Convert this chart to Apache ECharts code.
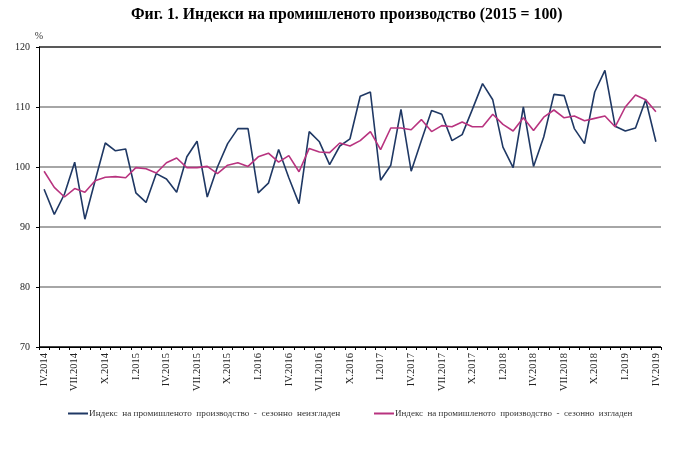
<!DOCTYPE html>
<html>
<head>
<meta charset="utf-8">
<script src="https://cdn.jsdelivr.net/npm/echarts@6/dist/echarts.min.js"></script>
<style>
html,body{margin:0;padding:0;background:#fff;}
#chart{width:700px;height:449px;}
</style>
</head>
<body>
<div id="chart"></div>
<script>
const months = [
 'IV.2014','V.2014','VI.2014','VII.2014','VIII.2014','IX.2014','X.2014','XI.2014','XII.2014',
 'I.2015','II.2015','III.2015','IV.2015','V.2015','VI.2015','VII.2015','VIII.2015','IX.2015','X.2015','XI.2015','XII.2015',
 'I.2016','II.2016','III.2016','IV.2016','V.2016','VI.2016','VII.2016','VIII.2016','IX.2016','X.2016','XI.2016','XII.2016',
 'I.2017','II.2017','III.2017','IV.2017','V.2017','VI.2017','VII.2017','VIII.2017','IX.2017','X.2017','XI.2017','XII.2017',
 'I.2018','II.2018','III.2018','IV.2018','V.2018','VI.2018','VII.2018','VIII.2018','IX.2018','X.2018','XI.2018','XII.2018',
 'I.2019','II.2019','III.2019','IV.2019'
];

const unadjusted = [
 96.3, 92.1, 95.5, 100.8, 91.3, 97.7, 104.0, 102.7, 103.0,
 95.7, 94.1, 98.9, 98.0, 95.8, 101.7, 104.3, 95.0, 100.0, 103.9, 106.4, 106.4,
 95.7, 97.3, 102.9, 98.2, 93.9, 105.9, 104.2, 100.4, 103.5, 104.7, 111.8, 112.5,
 97.8, 100.3, 109.6, 99.3, 104.4, 109.4, 108.8, 104.4, 105.4, 109.6, 113.9, 111.2,
 103.3, 99.9, 110.0, 100.1, 105.0, 112.1, 111.9, 106.4, 103.9, 112.5, 116.1, 106.8,
 106.0, 106.5, 111.2, 104.2
];

const adjusted = [
 99.3, 96.6, 95.0, 96.4, 95.8, 97.7, 98.3, 98.4, 98.2,
 99.9, 99.7, 99.0, 100.7, 101.5, 99.9, 99.9, 100.1, 98.9, 100.3, 100.7, 100.1,
 101.7, 102.3, 100.8, 101.9, 99.2, 103.1, 102.5, 102.4, 104.0, 103.5, 104.4, 105.9,
 102.9, 106.5, 106.5, 106.2, 107.9, 105.9, 106.9, 106.7, 107.5, 106.7, 106.7, 108.8,
 107.1, 106.0, 108.2, 106.1, 108.3, 109.5, 108.2, 108.5, 107.7, 108.1, 108.5, 106.7,
 110.0, 112.0, 111.2, 109.2
];

const yTicks = { min: 70, max: 120, step: 10 };

const titleText = 'Фиг. 1. Индекси на промишленото производство (2015 = 100)';
const nameUnadj = 'Индекс  на промишленото  производство  -  сезонно  неизгладен';
const nameAdj = 'Индекс  на промишленото  производство  -  сезонно  изгладен';

const serif = '"Liberation Serif", "DejaVu Serif", serif';

const chart = echarts.init(document.getElementById('chart'));
chart.setOption({
  animation: false,
  backgroundColor: '#fff',
  title: {
    text: titleText,
    left: 126,
    top: 2,
    textStyle: { fontFamily: serif, fontSize: 15.8, fontWeight: 'bold', color: '#000' }
  },
  grid: { left: 39, right: 39, top: 47, bottom: 102 },
  legend: [
    {
      data: [nameUnadj], left: 63, top: 404,
      icon: 'rect', itemWidth: 20, itemHeight: 2, itemGap: 2,
      textStyle: { fontFamily: serif, fontSize: 9.2, color: '#333', padding: [0,0,0,-4] }
    },
    {
      data: [nameAdj], left: 369, top: 404,
      icon: 'rect', itemWidth: 20, itemHeight: 2, itemGap: 2,
      textStyle: { fontFamily: serif, fontSize: 9, color: '#333', padding: [0,0,0,-4] }
    }
  ],
  xAxis: {
    type: 'category',
    data: months,
    boundaryGap: true,
    axisLine: { lineStyle: { color: '#000', width: 1 } },
    axisTick: { show: true, interval: 0, length: 3, lineStyle: { color: '#000' } },
    axisLabel: {
      interval: 2, rotate: 90, fontFamily: serif, fontSize: 10.5, color: '#222', margin: 6
    },
    splitLine: { show: false }
  },
  yAxis: {
    type: 'value',
    min: yTicks.min, max: yTicks.max, interval: yTicks.step,
    name: '%',
    nameLocation: 'end',
    nameGap: 6,
    nameTextStyle: { fontFamily: serif, fontSize: 10, color: '#333', align: 'center' },
    axisLine: { show: true, lineStyle: { color: '#000', width: 1 } },
    axisTick: { show: true, length: 3, lineStyle: { color: '#000' } },
    axisLabel: { fontFamily: serif, fontSize: 10, color: '#222', margin: 9 },
    splitLine: { show: true, lineStyle: { color: ['#000', '#888', '#888', '#888', '#888', '#222'], width: 1.5 } }
  },
  series: [
    {
      name: nameUnadj, type: 'line', data: unadjusted, symbol: 'none',
      lineStyle: { color: '#1f3864', width: 1.6 }, itemStyle: { color: '#1f3864' }
    },
    {
      name: nameAdj, type: 'line', data: adjusted, symbol: 'none',
      lineStyle: { color: '#b8337f', width: 1.6 }, itemStyle: { color: '#b8337f' }
    }
  ]
});
</script>
</body>
</html>
